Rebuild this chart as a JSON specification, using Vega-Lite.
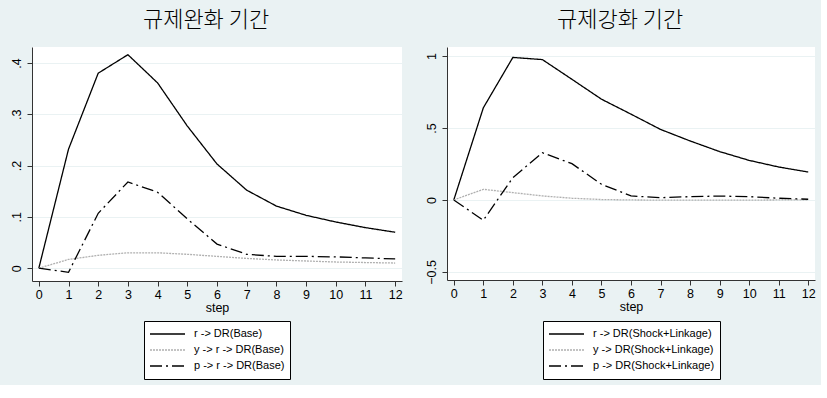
{
  "$schema": "https://vega.github.io/schema/vega-lite/v6.json",
  "background": "#eaf2f3",
  "padding": {"left": 10, "top": 9, "right": 5, "bottom": 5},
  "datasets": {
    "base": [
      {"series": "r -> DR(Base)", "step": 0, "value": 0},
      {"series": "r -> DR(Base)", "step": 1, "value": 0.232},
      {"series": "r -> DR(Base)", "step": 2, "value": 0.38},
      {"series": "r -> DR(Base)", "step": 3, "value": 0.416},
      {"series": "r -> DR(Base)", "step": 4, "value": 0.361},
      {"series": "r -> DR(Base)", "step": 5, "value": 0.277},
      {"series": "r -> DR(Base)", "step": 6, "value": 0.203},
      {"series": "r -> DR(Base)", "step": 7, "value": 0.152},
      {"series": "r -> DR(Base)", "step": 8, "value": 0.121},
      {"series": "r -> DR(Base)", "step": 9, "value": 0.103},
      {"series": "r -> DR(Base)", "step": 10, "value": 0.09},
      {"series": "r -> DR(Base)", "step": 11, "value": 0.079},
      {"series": "r -> DR(Base)", "step": 12, "value": 0.07},
      {"series": "y -> r -> DR(Base)", "step": 0, "value": 0},
      {"series": "y -> r -> DR(Base)", "step": 1, "value": 0.017},
      {"series": "y -> r -> DR(Base)", "step": 2, "value": 0.025},
      {"series": "y -> r -> DR(Base)", "step": 3, "value": 0.03},
      {"series": "y -> r -> DR(Base)", "step": 4, "value": 0.03},
      {"series": "y -> r -> DR(Base)", "step": 5, "value": 0.027},
      {"series": "y -> r -> DR(Base)", "step": 6, "value": 0.023},
      {"series": "y -> r -> DR(Base)", "step": 7, "value": 0.019},
      {"series": "y -> r -> DR(Base)", "step": 8, "value": 0.016},
      {"series": "y -> r -> DR(Base)", "step": 9, "value": 0.014},
      {"series": "y -> r -> DR(Base)", "step": 10, "value": 0.012},
      {"series": "y -> r -> DR(Base)", "step": 11, "value": 0.011},
      {"series": "y -> r -> DR(Base)", "step": 12, "value": 0.01},
      {"series": "p -> r -> DR(Base)", "step": 0, "value": 0},
      {"series": "p -> r -> DR(Base)", "step": 1, "value": -0.008},
      {"series": "p -> r -> DR(Base)", "step": 2, "value": 0.107},
      {"series": "p -> r -> DR(Base)", "step": 3, "value": 0.168},
      {"series": "p -> r -> DR(Base)", "step": 4, "value": 0.148},
      {"series": "p -> r -> DR(Base)", "step": 5, "value": 0.096},
      {"series": "p -> r -> DR(Base)", "step": 6, "value": 0.047},
      {"series": "p -> r -> DR(Base)", "step": 7, "value": 0.027},
      {"series": "p -> r -> DR(Base)", "step": 8, "value": 0.023},
      {"series": "p -> r -> DR(Base)", "step": 9, "value": 0.023},
      {"series": "p -> r -> DR(Base)", "step": 10, "value": 0.022},
      {"series": "p -> r -> DR(Base)", "step": 11, "value": 0.02},
      {"series": "p -> r -> DR(Base)", "step": 12, "value": 0.018}
    ],
    "shock": [
      {"series": "r -> DR(Shock+Linkage)", "step": 0, "value": 0},
      {"series": "r -> DR(Shock+Linkage)", "step": 1, "value": 0.64},
      {"series": "r -> DR(Shock+Linkage)", "step": 2, "value": 0.99},
      {"series": "r -> DR(Shock+Linkage)", "step": 3, "value": 0.975},
      {"series": "r -> DR(Shock+Linkage)", "step": 4, "value": 0.838},
      {"series": "r -> DR(Shock+Linkage)", "step": 5, "value": 0.7},
      {"series": "r -> DR(Shock+Linkage)", "step": 6, "value": 0.596},
      {"series": "r -> DR(Shock+Linkage)", "step": 7, "value": 0.49},
      {"series": "r -> DR(Shock+Linkage)", "step": 8, "value": 0.41},
      {"series": "r -> DR(Shock+Linkage)", "step": 9, "value": 0.336},
      {"series": "r -> DR(Shock+Linkage)", "step": 10, "value": 0.275},
      {"series": "r -> DR(Shock+Linkage)", "step": 11, "value": 0.229},
      {"series": "r -> DR(Shock+Linkage)", "step": 12, "value": 0.194},
      {"series": "y -> DR(Shock+Linkage)", "step": 0, "value": 0},
      {"series": "y -> DR(Shock+Linkage)", "step": 1, "value": 0.074},
      {"series": "y -> DR(Shock+Linkage)", "step": 2, "value": 0.051},
      {"series": "y -> DR(Shock+Linkage)", "step": 3, "value": 0.028},
      {"series": "y -> DR(Shock+Linkage)", "step": 4, "value": 0.012},
      {"series": "y -> DR(Shock+Linkage)", "step": 5, "value": 0.003},
      {"series": "y -> DR(Shock+Linkage)", "step": 6, "value": 0.0},
      {"series": "y -> DR(Shock+Linkage)", "step": 7, "value": -0.001},
      {"series": "y -> DR(Shock+Linkage)", "step": 8, "value": -0.001},
      {"series": "y -> DR(Shock+Linkage)", "step": 9, "value": -0.001},
      {"series": "y -> DR(Shock+Linkage)", "step": 10, "value": -0.001},
      {"series": "y -> DR(Shock+Linkage)", "step": 11, "value": 0.0},
      {"series": "y -> DR(Shock+Linkage)", "step": 12, "value": 0.0},
      {"series": "p -> DR(Shock+Linkage)", "step": 0, "value": 0},
      {"series": "p -> DR(Shock+Linkage)", "step": 1, "value": -0.141},
      {"series": "p -> DR(Shock+Linkage)", "step": 2, "value": 0.155},
      {"series": "p -> DR(Shock+Linkage)", "step": 3, "value": 0.328},
      {"series": "p -> DR(Shock+Linkage)", "step": 4, "value": 0.252},
      {"series": "p -> DR(Shock+Linkage)", "step": 5, "value": 0.109},
      {"series": "p -> DR(Shock+Linkage)", "step": 6, "value": 0.028},
      {"series": "p -> DR(Shock+Linkage)", "step": 7, "value": 0.016},
      {"series": "p -> DR(Shock+Linkage)", "step": 8, "value": 0.023},
      {"series": "p -> DR(Shock+Linkage)", "step": 9, "value": 0.027},
      {"series": "p -> DR(Shock+Linkage)", "step": 10, "value": 0.023},
      {"series": "p -> DR(Shock+Linkage)", "step": 11, "value": 0.012},
      {"series": "p -> DR(Shock+Linkage)", "step": 12, "value": 0.005}
    ]
  },
  "hconcat": [
    {
      "width": 370,
      "height": 234,
      "title": {"text": "규제완화 기간"},
      "data": {"name": "base"},
      "mark": {"type": "line", "strokeWidth": 1.3},
      "encoding": {
        "x": {"field": "step", "type": "quantitative",
              "scale": {"domain": [-0.23, 12.23], "nice": false, "zero": false},
              "axis": {"values": [0,1,2,3,4,5,6,7,8,9,10,11,12], "title": "step"}},
        "y": {"field": "value", "type": "quantitative",
              "scale": {"domain": [-0.025, 0.431], "nice": false, "zero": false},
              "axis": {"values": [0, 0.1, 0.2, 0.3, 0.4], "title": null}},
        "color": {"field": "series", "type": "nominal",
                  "scale": {"domain": ["r -> DR(Base)", "y -> r -> DR(Base)", "p -> r -> DR(Base)"], "range": ["#000000", "#b0b0b0", "#000000"]},
                  "legend": {"title": null, "orient": "none", "legendX": 112, "legendY": 274}},
        "strokeDash": {"field": "series", "type": "nominal",
                  "scale": {"domain": ["r -> DR(Base)", "y -> r -> DR(Base)", "p -> r -> DR(Base)"], "range": [[1, 0], [2, 1], [12, 4, 2, 4]]},
                  "legend": {"title": null, "orient": "none", "legendX": 112, "legendY": 274}}
      }
    },
    {
      "width": 368,
      "height": 233,
      "title": {"text": "규제강화 기간"},
      "data": {"name": "shock"},
      "mark": {"type": "line", "strokeWidth": 1.3},
      "encoding": {
        "x": {"field": "step", "type": "quantitative",
              "scale": {"domain": [-0.23, 12.23], "nice": false, "zero": false},
              "axis": {"values": [0,1,2,3,4,5,6,7,8,9,10,11,12], "title": "step"}},
        "y": {"field": "value", "type": "quantitative",
              "scale": {"domain": [-0.556, 1.0625], "nice": false, "zero": false},
              "axis": {"values": [-0.5, 0, 0.5, 1], "title": null}},
        "color": {"field": "series", "type": "nominal",
                  "scale": {"domain": ["r -> DR(Shock+Linkage)", "y -> DR(Shock+Linkage)", "p -> DR(Shock+Linkage)"], "range": ["#000000", "#b0b0b0", "#000000"]},
                  "legend": {"title": null, "orient": "none", "legendX": 96, "legendY": 274}},
        "strokeDash": {"field": "series", "type": "nominal",
                  "scale": {"domain": ["r -> DR(Shock+Linkage)", "y -> DR(Shock+Linkage)", "p -> DR(Shock+Linkage)"], "range": [[1, 0], [2, 1], [12, 4, 2, 4]]},
                  "legend": {"title": null, "orient": "none", "legendX": 96, "legendY": 274}}
      }
    }
  ],
  "spacing": 22,
  "resolve": {"scale": {"color": "independent", "strokeDash": "independent"}, "legend": {"color": "independent", "strokeDash": "independent"}},
  "config": {
    "font": "Liberation Sans",
    "view": {"stroke": null, "fill": "white"},
    "title": {"font": "Noto Sans CJK KR", "fontSize": 22, "fontWeight": 300, "color": "#000000", "anchor": "middle", "frame": "bounds", "offset": 15},
    "axis": {
      "domainColor": "#333333",
      "tickColor": "#333333",
      "tickSize": 5,
      "labelColor": "#000000",
      "labelFont": "Liberation Sans",
      "labelFontSize": 12.5,
      "titleFont": "Liberation Sans",
      "titleFontSize": 12.5,
      "titleFontWeight": "normal",
      "titleColor": "#000000",
      "titlePadding": 1
    },
    "axisX": {"grid": false, "labelPadding": 2},
    "axisY": {"grid": true, "gridColor": "#eaf2f3", "gridWidth": 1.2, "labelAngle": -90, "labelAlign": "center", "labelBaseline": "bottom", "labelPadding": 4,
              "labelExpr": "replace(format(datum.value, '~g'), regexp('^(-?)0\\\\.'), '$1.')"},
    "legend": {
      "direction": "vertical",
      "strokeColor": "#000000",
      "fillColor": "#ffffff",
      "padding": 5,
      "symbolType": "stroke",
      "symbolSize": 1225,
      "symbolStrokeWidth": 1.3,
      "clipHeight": 16,
      "labelOffset": 8,
      "labelAlign": "left",
      "labelFont": "Liberation Sans",
      "labelFontSize": 11,
      "labelColor": "#000000",
      "rowPadding": 0
    }
  }
}
